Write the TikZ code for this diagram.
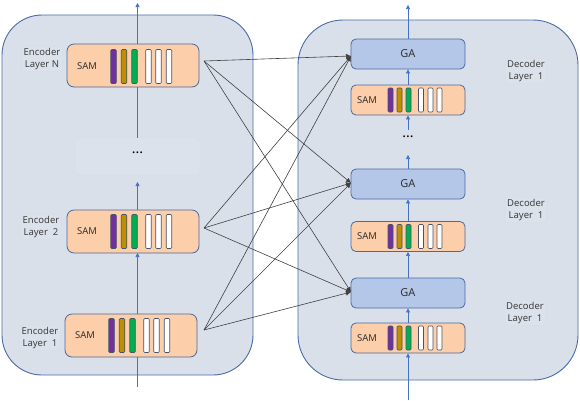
\documentclass[tikz,border=0pt]{standalone}
\usepackage{fontspec}
\setmainfont{Noto Sans}
\usetikzlibrary{arrows.meta}
\definecolor{panelfill}{HTML}{DAE0EA}
\definecolor{paneldraw}{HTML}{4A6CA6}
\definecolor{samfill}{HTML}{FCCEAA}
\definecolor{samdraw}{HTML}{4A6A9E}
\definecolor{gafill}{HTML}{B4C7E8}
\definecolor{gadraw}{HTML}{4A6CA6}
\definecolor{purp}{HTML}{7030A0}
\definecolor{gold}{HTML}{BF8F00}
\definecolor{grn}{HTML}{00B050}
\definecolor{bardraw}{HTML}{44546A}
\definecolor{flowblue}{HTML}{4472C4}
\definecolor{lblfill}{HTML}{DCE2EB}
\definecolor{lbldraw}{HTML}{D6DBE4}
\definecolor{conn}{HTML}{404040}
\tikzset{
  panelbox/.style={draw=paneldraw,fill=panelfill,line width=0.9pt},
  sambox/.style={draw=samdraw,fill=samfill,line width=0.8pt,rounded corners=7pt},
  gabox/.style={draw=gadraw,fill=gafill,line width=0.8pt,rounded corners=5pt,
    minimum width=114pt,minimum height=30pt,inner sep=0pt,font=\fontsize{11}{13}\selectfont,text=black!80},
  barbox/.style={draw=bardraw,line width=0.6pt,rounded corners=1pt},
  lbl/.style={fill=lblfill,draw=lbldraw,line width=0.3pt,rounded corners=3pt,align=center,
    font=\fontsize{9.5}{12}\selectfont,text=black!75,inner sep=2pt},
  samtxt/.style={font=\fontsize{9.5}{11}\selectfont,text=black!80,inner sep=0pt},
  dotstxt/.style={font=\fontsize{14}{14}\selectfont\bfseries,inner sep=0pt},
  flow/.style={draw=flowblue,line width=0.6pt,-{Triangle[width=4pt,length=4pt]}},
  flowplain/.style={draw=flowblue,line width=0.6pt},
  link/.style={draw=conn,line width=0.6pt,-{Latex[width=5pt,length=5pt]}},
  encbars/.pic={
    \foreach \dx/\c in {-19.5/purp,-9/gold,1.5/grn,15.5/white,25.5/white,36/white}
      \draw[barbox,fill=\c] (\dx-2.75,-17) rectangle (\dx+2.75,17);
  },
  decbars/.pic={
    \foreach \dx/\c in {-17.5/purp,-8.5/gold,0.5/grn,13/white,22.5/white,31.5/white}
      \draw[barbox,fill=\c] (\dx-2.5,-12) rectangle (\dx+2.5,12);
  }
}
\begin{document}
\begin{tikzpicture}[x=1pt,y=-1pt]
\useasboundingbox[fill=white] (0,0) rectangle (580,400);

% panels
\draw[panelbox,rounded corners=40pt] (2,15) rectangle (253,375);
\draw[panelbox,rounded corners=45pt] (298,20) rectangle (578,380);

% encoder side
\coordinate (eTop) at (137.5,3);
\coordinate (eBot) at (137.5,387);
\coordinate (eDotsIn) at (137.5,182);

\node[fill=lblfill,draw=lbldraw,line width=0.3pt,rounded corners=4pt,minimum width=125pt,minimum height=37pt] (edots) at (137.5,156.5) {};
\node[dotstxt] at (137.5,153) {...};

\draw[flowplain] (eBot) -- (eBot |- 336,336);
\node[sambox,minimum width=132pt,minimum height=43pt] (enc1) at (131,335.5) {};
\draw[flow] (eBot |- enc1.north) -- (eBot |- 0,253);
\node[sambox,minimum width=132pt,minimum height=43pt] (enc2) at (133,231.5) {};
\draw[flow] (eBot |- enc2.north) -- (eDotsIn);
\node[sambox,minimum width=132pt,minimum height=43pt] (encN) at (133,65.5) {};
\draw[flow] (eTop |- encN.north) -- (eTop);
\draw[flowplain] (eTop |- encN.south) -- (eTop |- edots.north);

\foreach \n/\cx/\cy in {encN/133/66.5, enc2/133/231.5, enc1/131/335.5} {
  \pic at (\cx,\cy) {encbars};
  \node[samtxt] at (\cx-46,\cy) {SAM};
}

\node[lbl] (lN) at (42,59) {Encoder\\Layer N};
\node[lbl] (l2) at (41,227) {Encoder\\Layer\ \ 2};
\node[lbl] (l1) at (40,338) {Encoder\\Layer\ \ 1};

% decoder side
\coordinate (dTop) at (408,5);
\coordinate (dBot) at (408,400);
\coordinate (dDots) at (408,130);
\coordinate (dDotsB) at (408,155);

\node[gabox] (ga3) at (408,54) {GA};
\node[sambox,rounded corners=5pt,minimum width=114pt,minimum height=30pt] (ds3) at (408,100) {};
\node[dotstxt] (ddots) at (408,137) {...};
\node[gabox] (ga2) at (408,184) {GA};
\node[sambox,rounded corners=5pt,minimum width=114pt,minimum height=30pt] (ds2) at (408,236.5) {};
\node[gabox] (ga1) at (408,293) {GA};
\node[sambox,rounded corners=5pt,minimum width=114pt,minimum height=30pt] (ds1) at (408,338) {};

\foreach \n/\cy in {ds3/100, ds2/236.5, ds1/338} {
  \pic at (408,\cy) {decbars};
  \node[samtxt] at (367,\cy) {SAM};
}

\draw[flow] (ga3.north) -- (dTop);
\draw[flow] (ds3.north) -- (ga3.south);
\draw[flow] (dDots) -- (ds3.south);
\draw[flow] (ga2.north) -- (dDotsB);
\draw[flow] (ds2.north) -- (ga2.south);
\draw[flow] (ga1.north) -- (ds2.south);
\draw[flow] (ds1.north) -- (ga1.south);
\draw[flow] (dBot) -- (ds1.south);

\node[lbl] (dl3) at (526,71) {Decoder\\Layer\ \ 1};
\node[lbl] (dl2) at (526,210) {Decoder\\Layer\ \ 1};
\node[lbl] (dl1) at (525,313) {Decoder\\Layer\ \ 1};

% connections
\coordinate (sN) at (204,61);
\coordinate (s2) at (204,228);
\coordinate (s1) at (204,330);
\coordinate (t3) at (351,56);
\coordinate (t2) at (351,183);
\coordinate (t1) at (351,292);
\foreach \s in {sN,s2,s1}
  \foreach \t in {t3,t2,t1}
    \draw[link] (\s) -- (\t);
\end{tikzpicture}
\end{document}
